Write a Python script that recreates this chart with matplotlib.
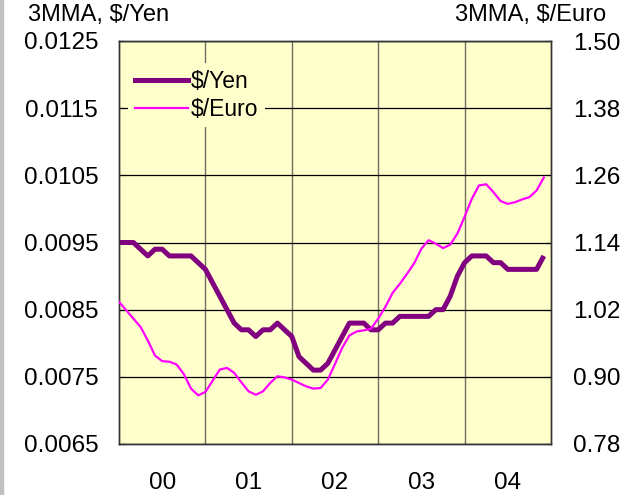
import numpy as np
import matplotlib
matplotlib.use("Agg")
import matplotlib.pyplot as plt
from matplotlib.patches import Rectangle
from matplotlib.lines import Line2D

plt.rcParams['font.family'] = ['Liberation Sans', 'DejaVu Sans']

# monthly 3-month moving averages, Jan 2000 .. Dec 2004
yen = [0.0095, 0.0095, 0.0095, 0.0094, 0.0093, 0.0094, 0.0094, 0.0093, 0.0093, 0.0093,
       0.0093, 0.0092, 0.0091, 0.0089, 0.0087, 0.0085, 0.0083, 0.0082, 0.0082, 0.0081,
       0.0082, 0.0082, 0.0083, 0.0082, 0.0081, 0.0078, 0.0077, 0.0076, 0.0076, 0.0077,
       0.0079, 0.0081, 0.0083, 0.0083, 0.0083, 0.0082, 0.0082, 0.0083, 0.0083, 0.0084,
       0.0084, 0.0084, 0.0084, 0.0084, 0.0085, 0.0085, 0.0087, 0.0090, 0.0092, 0.0093,
       0.0093, 0.0093, 0.0092, 0.0092, 0.0091, 0.0091, 0.0091, 0.0091, 0.0091, 0.0093]
euro = [1.034, 1.019, 1.004, 0.989, 0.965, 0.938, 0.928, 0.927, 0.922, 0.905,
        0.879, 0.867, 0.873, 0.893, 0.913, 0.916, 0.907, 0.890, 0.874, 0.868,
        0.874, 0.889, 0.901, 0.899, 0.895, 0.889, 0.883, 0.879, 0.880, 0.895,
        0.923, 0.952, 0.974, 0.981, 0.983, 0.986, 1.004, 1.025, 1.050, 1.066,
        1.084, 1.103, 1.129, 1.144, 1.138, 1.130, 1.136, 1.156, 1.186, 1.218,
        1.242, 1.244, 1.230, 1.214, 1.209, 1.212, 1.217, 1.221, 1.233, 1.256]
year_labels = ['00', '01', '02', '03', '04']
yen_ticks = [0.0065, 0.0075, 0.0085, 0.0095, 0.0105, 0.0115, 0.0125]
euro_ticks = [0.78, 0.90, 1.02, 1.14, 1.26, 1.38, 1.50]

months = np.arange(len(yen))

fig = plt.figure(figsize=(6.27, 4.95), dpi=100)
ax = fig.add_axes([119/627, 1 - 444/495, 432/627, 403/495])
ax.set_facecolor('#FFFFCC')
ax2 = ax.twinx()

ax.plot(months, yen, color='#800080', lw=3.6, solid_capstyle='butt', zorder=3)
ax2.plot(months, euro, color='#FF00FF', lw=1.6, zorder=3)

ax.set_xlim(0, 60)
ax.set_ylim(yen_ticks[0], yen_ticks[-1])
ax2.set_ylim(euro_ticks[0], euro_ticks[-1])

ax.set_yticks(yen_ticks)
ax.set_yticklabels(['%.4f' % t for t in yen_ticks])
ax2.set_yticks(euro_ticks)
ax2.set_yticklabels(['%.2f' % t for t in euro_ticks])

ax.set_xticks([12, 24, 36, 48])
ax.set_xticklabels([])
ax.set_xticks([6 + 12 * i for i in range(len(year_labels))], minor=True)
ax.set_xticklabels(year_labels, minor=True)
ax.tick_params(axis='x', which='both', length=0, labelsize=17.5, pad=20)
ax.tick_params(axis='y', direction='in', length=4, labelsize=17.5, pad=15)
ax2.tick_params(axis='y', direction='in', length=4, labelsize=17.5, pad=16)

ax.grid(axis='y', color='black', lw=0.9)
ax.grid(axis='x', which='major', color='#707060', lw=1.0)
ax.set_axisbelow(True)

for a in (ax, ax2):
    for s in a.spines.values():
        s.set_color('#333333')
        s.set_linewidth(1.0)

fig.text(28/627, 1 - 15/495, '3MMA, $/Yen', fontsize=17, ha='left', va='center')
fig.text(606/627, 1 - 15/495, '3MMA, $/Euro', fontsize=17, ha='right', va='center')

handles = [Line2D([], [], color='#800080', lw=3.6),
           Line2D([], [], color='#FF00FF', lw=1.6)]
leg = ax2.legend(handles, ['$/Yen', '$/Euro'], loc='upper left',
                 bbox_to_anchor=(0.021, 0.945), fontsize=16.5, frameon=True,
                 facecolor='#FFFFCC', edgecolor='none', framealpha=1,
                 handlelength=2.3, handletextpad=0.15, labelspacing=0.2,
                 borderpad=0.3, borderaxespad=0, fancybox=False)

fig.patches.append(Rectangle((0, 0), 3/627, 1, transform=fig.transFigure,
                             color='#C0C0C0', zorder=0))

fig.savefig('out.png', dpi=100)
